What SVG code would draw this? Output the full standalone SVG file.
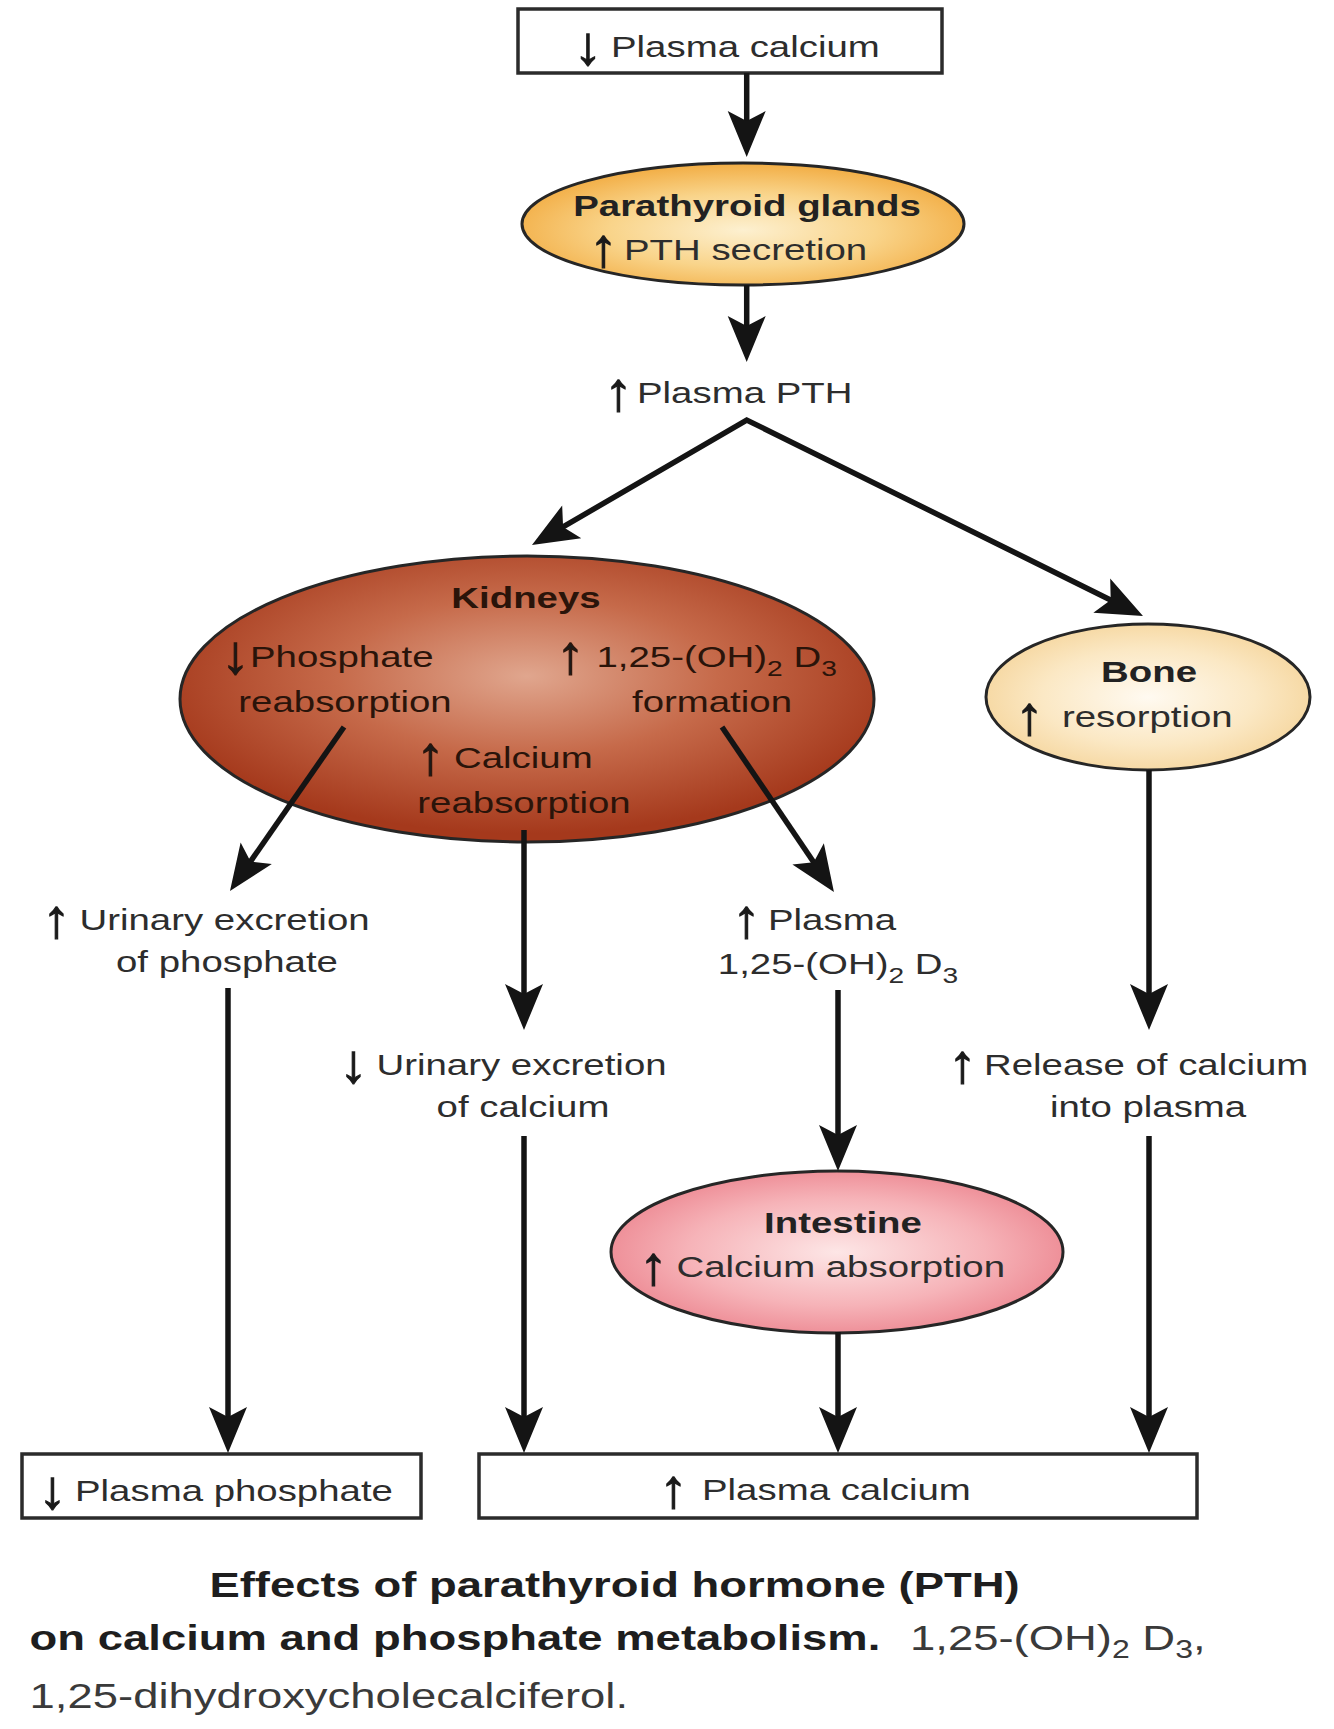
<svg xmlns="http://www.w3.org/2000/svg" width="1334" height="1729" viewBox="0 0 1334 1729">
<defs>
<style>
.t{font-family:"Liberation Sans",Arial,Helvetica,sans-serif;font-size:30px;fill:#2d2d2d}
.b{font-weight:bold;fill:#222}
.kt{fill:#2a140a}
.ar{font-family:"Liberation Sans",Arial,Helvetica,sans-serif;font-size:54px;font-weight:bold;fill:#1a1a1a;stroke:#1a1a1a;stroke-width:1.1;stroke-linejoin:miter}
.ar.kt{stroke:#2a140a}
.cap{font-family:"Liberation Sans",Arial,Helvetica,sans-serif;font-size:35.5px}
.capb{font-weight:bold;fill:#1e1e1e}
.capr{fill:#3a3a3a}
.box{fill:#fff;stroke:#2b2b2b;stroke-width:3.5}
.node{stroke:#262626;stroke-width:3}
.conn{fill:none;stroke:#141414;stroke-width:5.5;stroke-linejoin:miter;stroke-miterlimit:10}
</style>
<radialGradient id="gPara" cx="50%" cy="55%" r="55%">
<stop offset="0" stop-color="#fdf0d0"/>
<stop offset="0.55" stop-color="#f9d48a"/>
<stop offset="1" stop-color="#f2ad44"/>
</radialGradient>
<radialGradient id="gKid" cx="50%" cy="42%" r="55%">
<stop offset="0" stop-color="#e0a68e"/>
<stop offset="0.5" stop-color="#c66a4a"/>
<stop offset="1" stop-color="#a5391c"/>
</radialGradient>
<radialGradient id="gBone" cx="50%" cy="50%" r="55%">
<stop offset="0" stop-color="#fffaf1"/>
<stop offset="0.6" stop-color="#fbe8c4"/>
<stop offset="1" stop-color="#f5d59c"/>
</radialGradient>
<radialGradient id="gInt" cx="50%" cy="50%" r="55%">
<stop offset="0" stop-color="#fde6e6"/>
<stop offset="0.6" stop-color="#f6b3b8"/>
<stop offset="1" stop-color="#ec8690"/>
</radialGradient>
<marker id="ah" viewBox="-20 -22 52 44" refX="0" refY="0" markerWidth="52" markerHeight="44" markerUnits="userSpaceOnUse" orient="auto-start-reverse" overflow="visible">
<path d="M30,0 L-16,-19 L-6,0 L-16,19 Z" fill="#141414"/>
</marker>
</defs>

<g id="plasma-calcium-low">
<rect class="box" x="518" y="9" width="424" height="64"/>
<text class="ar" transform="translate(574,64) scale(1.05,1)">↓</text>
<text class="t" transform="translate(611,57) scale(1.28,1)">Plasma calcium</text>
</g>

<g id="parathyroid">
<ellipse class="node" cx="743" cy="224" rx="221" ry="61" fill="url(#gPara)"/>
<text class="t b" text-anchor="middle" transform="translate(747,216) scale(1.28,1)">Parathyroid glands</text>
<text class="ar" transform="translate(589.5,266) scale(1.05,1)">↑</text>
<text class="t" transform="translate(624,260) scale(1.28,1)">PTH secretion</text>
</g>

<g id="plasma-pth">
<text class="ar" transform="translate(604.5,410) scale(1.05,1)">↑</text>
<text class="t" transform="translate(637,403) scale(1.28,1)">Plasma PTH</text>
</g>

<g id="kidneys">
<ellipse class="node" cx="527" cy="699" rx="347" ry="143" fill="url(#gKid)"/>
<text class="t b kt" text-anchor="middle" transform="translate(526,608) scale(1.28,1)">Kidneys</text>
<text class="ar kt" transform="translate(221.5,673) scale(1.05,1)">↓</text>
<text class="t kt" transform="translate(250,667) scale(1.28,1)">Phosphate</text>
<text class="t kt" text-anchor="middle" transform="translate(345,712) scale(1.28,1)">reabsorption</text>
<text class="ar kt" transform="translate(556.5,673) scale(1.05,1)">↑</text>
<text class="t kt" transform="translate(596.5,667) scale(1.28,1)">1,25-(OH)<tspan font-size="22" dy="9">2</tspan><tspan dy="-9"> D</tspan><tspan font-size="22" dy="9">3</tspan></text>
<text class="t kt" text-anchor="middle" transform="translate(712,712) scale(1.28,1)">formation</text>
<text class="ar kt" transform="translate(416.5,774) scale(1.05,1)">↑</text>
<text class="t kt" transform="translate(454,768) scale(1.28,1)">Calcium</text>
<text class="t kt" text-anchor="middle" transform="translate(524,813) scale(1.28,1)">reabsorption</text>
</g>

<g id="bone">
<ellipse class="node" cx="1148" cy="697" rx="162" ry="73" fill="url(#gBone)"/>
<text class="t b" text-anchor="middle" transform="translate(1149,682) scale(1.28,1)">Bone</text>
<text class="ar" transform="translate(1015.5,734) scale(1.05,1)">↑</text>
<text class="t" transform="translate(1062,727) scale(1.28,1)">resorption</text>
</g>

<g id="urinary-phosphate">
<text class="ar" transform="translate(42.5,937) scale(1.05,1)">↑</text>
<text class="t" transform="translate(79.5,930) scale(1.28,1)">Urinary excretion</text>
<text class="t" text-anchor="middle" transform="translate(227,972) scale(1.28,1)">of phosphate</text>
</g>

<g id="plasma-d3">
<text class="ar" transform="translate(732.5,937) scale(1.05,1)">↑</text>
<text class="t" transform="translate(768,930) scale(1.28,1)">Plasma</text>
<text class="t" text-anchor="middle" transform="translate(838,974) scale(1.28,1)">1,25-(OH)<tspan font-size="22" dy="9">2</tspan><tspan dy="-9"> D</tspan><tspan font-size="22" dy="9">3</tspan></text>
</g>

<g id="urinary-calcium">
<text class="ar" transform="translate(339.5,1082) scale(1.05,1)">↓</text>
<text class="t" transform="translate(376.5,1075) scale(1.28,1)">Urinary excretion</text>
<text class="t" text-anchor="middle" transform="translate(523,1117) scale(1.28,1)">of calcium</text>
</g>

<g id="release-calcium">
<text class="ar" transform="translate(948.5,1082) scale(1.05,1)">↑</text>
<text class="t" transform="translate(984,1075) scale(1.28,1)">Release of calcium</text>
<text class="t" text-anchor="middle" transform="translate(1148,1117) scale(1.28,1)">into plasma</text>
</g>

<g id="intestine">
<ellipse class="node" cx="837" cy="1252" rx="226" ry="81" fill="url(#gInt)"/>
<text class="t b" text-anchor="middle" transform="translate(843,1233) scale(1.28,1)">Intestine</text>
<text class="ar" transform="translate(639.5,1284) scale(1.05,1)">↑</text>
<text class="t" transform="translate(676.5,1277) scale(1.28,1)">Calcium absorption</text>
</g>

<g id="plasma-phosphate">
<rect class="box" x="22" y="1454" width="399" height="64"/>
<text class="ar" transform="translate(38.5,1508) scale(1.05,1)">↓</text>
<text class="t" transform="translate(75,1501) scale(1.28,1)">Plasma phosphate</text>
</g>

<g id="plasma-calcium-high">
<rect class="box" x="479" y="1454" width="718" height="64"/>
<text class="ar" transform="translate(659.5,1507) scale(1.05,1)">↑</text>
<text class="t" transform="translate(702,1500) scale(1.28,1)">Plasma calcium</text>
</g>

<g id="connectors">
<line class="conn" x1="746.7" y1="73" x2="746.7" y2="127" marker-end="url(#ah)"/>
<line class="conn" x1="746.7" y1="285" x2="746.7" y2="332" marker-end="url(#ah)"/>
<path class="conn" d="M557.9,529.9 L746.7,420 L1116.1,602.7" marker-start="url(#ah)" marker-end="url(#ah)"/>
<line class="conn" x1="344" y1="727" x2="247.1" y2="866.4" marker-end="url(#ah)"/>
<line class="conn" x1="524" y1="830" x2="524" y2="1000" marker-end="url(#ah)"/>
<line class="conn" x1="722" y1="727" x2="817.1" y2="867.2" marker-end="url(#ah)"/>
<line class="conn" x1="1149" y1="770" x2="1149" y2="1000" marker-end="url(#ah)"/>
<line class="conn" x1="228" y1="988" x2="228" y2="1423" marker-end="url(#ah)"/>
<line class="conn" x1="524" y1="1136" x2="524" y2="1423" marker-end="url(#ah)"/>
<line class="conn" x1="838" y1="990" x2="838" y2="1141" marker-end="url(#ah)"/>
<line class="conn" x1="838" y1="1332" x2="838" y2="1423" marker-end="url(#ah)"/>
<line class="conn" x1="1149" y1="1136" x2="1149" y2="1423" marker-end="url(#ah)"/>
</g>

<g id="caption">
<text class="cap capb" text-anchor="middle" transform="translate(614.5,1597) scale(1.28,1)">Effects of parathyroid hormone (PTH)</text>
<text class="cap capb" transform="translate(29.6,1650) scale(1.28,1)">on calcium and phosphate metabolism.</text>
<text class="cap capr" transform="translate(910,1650) scale(1.28,1)">1,25-(OH)<tspan font-size="25" dy="8">2</tspan><tspan dy="-8"> D</tspan><tspan font-size="25" dy="8">3</tspan><tspan dy="-8">,</tspan></text>
<text class="cap capr" transform="translate(29.6,1708) scale(1.28,1)">1,25-dihydroxycholecalciferol.</text>
</g>
</svg>
